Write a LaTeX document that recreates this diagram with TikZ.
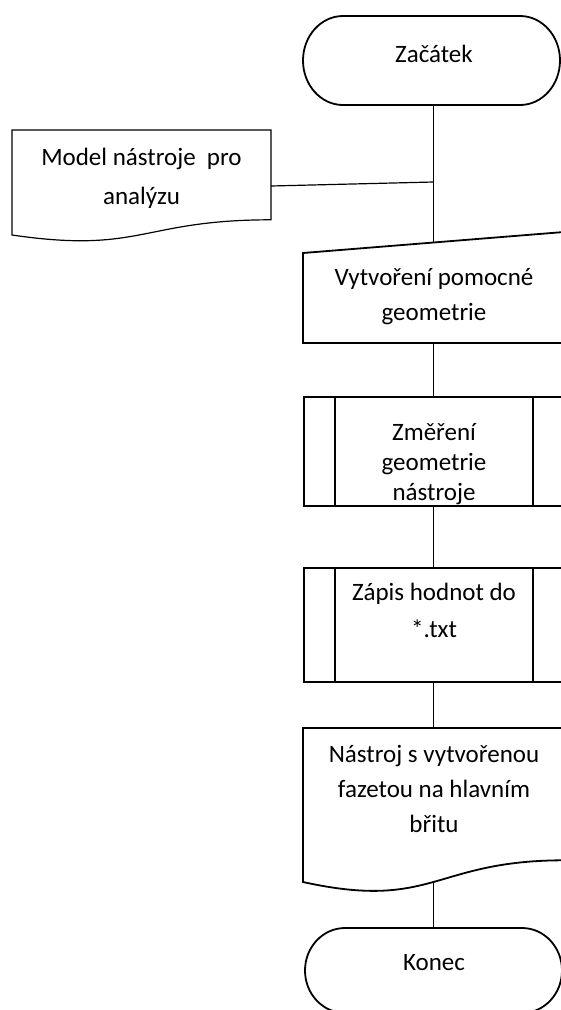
\documentclass[tikz,border=0pt]{standalone}
\usepackage{fontspec}
\setmainfont{Carlito}
\begin{document}
\begin{tikzpicture}[x=1pt,y=1pt,
  shapeline/.style={line width=1.8pt, line join=miter},
  thinline/.style={line width=1.2pt},
  conn/.style={line width=1.5pt},
  lbl/.style={anchor=base, align=center, inner sep=0pt, font=\fontsize{25}{35}\selectfont}]
\useasboundingbox (0,0) rectangle (561,-1010);
\fill[white] (0,0) rectangle (561,-1010);
\clip (0,0) rectangle (561,-1010);

% shapes
\draw[shapeline] (343,-16) -- (520,-16) arc[start angle=90,end angle=-90,x radius=40,y radius=44.5]
  -- (343,-105) arc[start angle=270,end angle=90,x radius=40,y radius=44.5] -- cycle;
\draw[thinline] (12,-235) .. controls (141.5,-254) and (141.5,-219.8) .. (271,-219.8)
  -- (271,-130) -- (12,-130) -- cycle;
\draw[shapeline] (303,-253) -- (564,-232) -- (564,-343) -- (303,-343) -- cycle;
\draw[shapeline] (304,-397) rectangle (564,-506);
\draw[shapeline] (335,-397) -- (335,-506) (533,-397) -- (533,-506);
\draw[shapeline] (304,-568) rectangle (564,-682);
\draw[shapeline] (335,-568) -- (335,-682) (533,-568) -- (533,-682);
\draw[shapeline] (303,-882) -- (303,-728) -- (564,-728) -- (564,-860.3)
  .. controls (433.5,-860.3) and (433.5,-910.8) .. (303,-882) -- cycle;
\draw[shapeline] (345,-928) -- (522,-928) arc[start angle=90,end angle=-90,x radius=40,y radius=42.5]
  -- (345,-1013) arc[start angle=270,end angle=90,x radius=40,y radius=42.5] -- cycle;

% connection points
\coordinate (zacB) at (433.5,-105);
\coordinate (join) at (433.5,-182);
\coordinate (modR) at (271,-186);
\coordinate (vytT) at (433.5,-242.5);
\coordinate (vytB) at (433.5,-343);
\coordinate (zmeT) at (433.5,-397);
\coordinate (zmeB) at (433.5,-506);
\coordinate (zapT) at (433.5,-568);
\coordinate (zapB) at (433.5,-682);
\coordinate (nasT) at (433.5,-728);
\coordinate (nasB) at (433.5,-882);
\coordinate (konT) at (433.5,-928);

% connectors
\draw[conn] (zacB) -- (vytT);
\draw[thinline] (modR) -- (join);
\draw[conn] (vytB) -- (zmeT);
\draw[conn] (zmeB) -- (zapT);
\draw[conn] (zapB) -- (nasT);
\draw[conn] (nasB) -- (konT);

% texts (anchor = baseline of the last line)
\node[lbl] (zac) at (434,-62) {Začátek};
\node[lbl, font=\fontsize{25}{39}\selectfont] (model) at (141.5,-204) {Model nástroje\ \ pro\\analýzu};
\node[lbl] (vyt) at (434,-320) {Vytvoření pomocné\\geometrie};
\node[lbl, font=\fontsize{25}{30}\selectfont] (zme) at (434,-500.5) {Změření\\geometrie\\nástroje};
\node[lbl, font=\fontsize{25}{37}\selectfont] (zap) at (434,-637) {Zápis hodnot do\\{}*.txt};
\node[lbl, font=\fontsize{25}{35}\selectfont] (nas) at (434,-832) {Nástroj s vytvořenou\\fazetou na hlavním\\břitu};
\node[lbl] (kon) at (434,-970) {Konec};
\end{tikzpicture}
\end{document}
